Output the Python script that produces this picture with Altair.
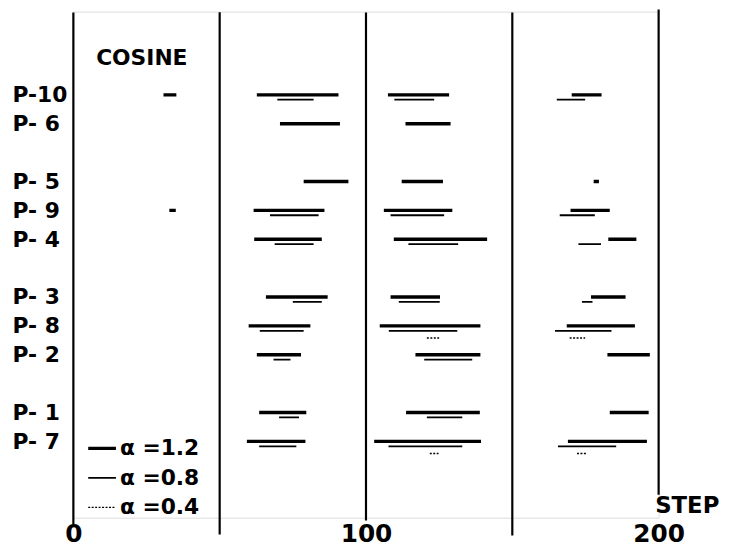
import altair as alt
import pandas as pd

# ---------------- data ----------------
rows = ["P-10", "P- 6", "P- 5", "P- 9", "P- 4", "P- 3", "P- 8", "P- 2", "P- 1", "P- 7"]
row_slots = [0, 1, 3, 4, 5, 7, 8, 9, 11, 12]

series_names = ["α =1.2", "α =0.8", "α =0.4"]

# alpha = 1.2 segments (start, end in STEP units)
a12_row = ["P-10", "P-10", "P-10", "P-10",
           "P- 6", "P- 6",
           "P- 5", "P- 5", "P- 5",
           "P- 9", "P- 9", "P- 9", "P- 9",
           "P- 4", "P- 4", "P- 4",
           "P- 3", "P- 3", "P- 3",
           "P- 8", "P- 8", "P- 8",
           "P- 2", "P- 2", "P- 2",
           "P- 1", "P- 1", "P- 1",
           "P- 7", "P- 7", "P- 7"]
a12_start = [30.8, 62.7, 107.5, 170.3,
             70.6, 113.5,
             78.7, 112.2, 177.8,
             32.8, 61.6, 106.1, 169.9,
             61.8, 109.5, 182.8,
             65.8, 108.4, 176.9,
             59.9, 104.7, 168.6,
             62.7, 116.9, 182.5,
             63.5, 113.7, 183.3,
             59.3, 102.8, 169.0]
a12_end = [35.2, 90.6, 128.4, 180.5,
           91.1, 128.9,
           94.0, 126.3, 179.6,
           35.0, 85.8, 129.5, 183.3,
           84.9, 141.4, 192.4,
           86.9, 125.3, 188.7,
           81.0, 139.1, 191.9,
           77.8, 139.1, 197.0,
           79.6, 138.9, 196.6,
           79.3, 139.3, 196.0]

# alpha = 0.8 segments
a08_row = ["P-10", "P-10", "P-10",
           "P- 9", "P- 9", "P- 9",
           "P- 4", "P- 4", "P- 4",
           "P- 3", "P- 3", "P- 3",
           "P- 8", "P- 8", "P- 8",
           "P- 2", "P- 2",
           "P- 1", "P- 1",
           "P- 7", "P- 7", "P- 7"]
a08_start = [69.7, 109.7, 165.2,
             67.2, 108.4, 166.2,
             68.8, 114.5, 172.6,
             75.0, 111.2, 173.8,
             63.7, 107.8, 164.6,
             68.4, 119.9,
             70.3, 120.8,
             63.5, 107.7, 165.6]
a08_end = [82.1, 123.3, 174.9,
           83.8, 126.7, 178.2,
           82.1, 131.5, 180.3,
           84.9, 125.2, 177.4,
           78.7, 131.2, 183.9,
           74.2, 136.3,
           77.1, 132.9,
           76.2, 132.9, 185.5]

# alpha = 0.4 segments
a04_row = ["P- 8", "P- 8", "P- 7", "P- 7"]
a04_start = [120.8, 169.6, 121.8, 172.1]
a04_end = [125.0, 174.9, 124.8, 175.5]

# vertical reference lines
grid_x = [0, 50, 100, 150, 200]
grid_top = [-2.85, -2.86, -2.85, -2.85, -2.95]
grid_bottom = [14.88, 15.22, 14.74, 15.26, 13.85]

x_tick_values = [0, 100, 200]

# ---------------- styles ----------------
series_offset = {"α =1.2": 0.0, "α =0.8": 0.17, "α =0.4": 0.42}
FONT = "DejaVu Sans"

# ---------------- tables ----------------
slot_of = dict(zip(rows, row_slots))
recs = []
for name, rr, ss, ee in [(series_names[0], a12_row, a12_start, a12_end),
                         (series_names[1], a08_row, a08_start, a08_end),
                         (series_names[2], a04_row, a04_start, a04_end)]:
    for r, s, e in zip(rr, ss, ee):
        recs.append({"row": r, "series": name, "start": s, "end": e,
                     "ypos": slot_of[r] + series_offset[name]})
seg_df = pd.DataFrame(recs)
grid_df = pd.DataFrame({"x": grid_x, "top": grid_top, "bottom": grid_bottom})

label_arr = [""] * (max(row_slots) + 1)
for r, s in zip(rows, row_slots):
    label_arr[s] = r
label_expr = "[" + ",".join("'" + t + "'" for t in label_arr) + "][datum.value]"

xscale = alt.Scale(domain=[0, 200], nice=False, zero=False)
yscale = alt.Scale(domain=[-2.88, 14.64], nice=False, zero=False, reverse=True)

xaxis = alt.Axis(values=x_tick_values, domain=False, ticks=False, grid=False, tickSize=0,
                 labelFont=FONT, labelFontSize=25, labelFontWeight="bold", labelColor="black",
                 labelPadding=4, labelFlush=False, labelOverlap=False,
                 title="STEP", titleFont=FONT, titleFontSize=23, titleFontWeight="bold",
                 titleColor="black", titleX=587, titleY=-12, titleAlign="left",
                 titleBaseline="middle", titleAnchor="start")
yaxis = alt.Axis(values=row_slots, labelExpr=label_expr, domain=False, ticks=False, grid=False,
                 tickSize=0, labelFont=FONT, labelFontSize=22, labelFontWeight="bold",
                 labelColor="black", labelAlign="left", labelBaseline="middle",
                 labelPadding=62, labelOverlap=False, labelBound=False, title=None)

leg = alt.Legend(title=None, orient="none", legendX=13, legendY=425, symbolType="stroke",
                 symbolSize=784, symbolStrokeColor="black", labelFont=FONT, labelFontSize=22,
                 labelFontWeight="bold", labelColor="black", labelOffset=2, rowPadding=3.8,
                 padding=0)

grid = alt.Chart(grid_df).mark_rule(color="black", strokeWidth=2.2).encode(
    x=alt.X("x:Q", scale=xscale, axis=xaxis),
    y=alt.Y("top:Q", scale=yscale, axis=yaxis),
    y2="bottom:Q",
)

segs = alt.Chart(seg_df).mark_rule(color="black", strokeCap="butt").encode(
    x=alt.X("start:Q", scale=xscale, axis=xaxis),
    x2="end:Q",
    y=alt.Y("ypos:Q", scale=yscale, axis=yaxis),
    strokeWidth=alt.StrokeWidth("series:O",
                                scale=alt.Scale(type="ordinal", domain=series_names, range=[3.4, 1.8, 1.4]),
                                legend=leg),
    strokeDash=alt.StrokeDash("series:O",
                              scale=alt.Scale(type="ordinal", domain=series_names,
                                              range=[[1, 0], [1, 0], [2, 1.5]]),
                              legend=leg),
)

chart = alt.layer(grid, segs).properties(
    width=591, height=511,
    autosize=alt.AutoSizeParams(type="none"),
    padding={"left": 66, "top": 1, "right": 64, "bottom": 33},
    title=alt.TitleParams("COSINE", anchor="start", orient="top", frame="group", dx=23, dy=72,
                          offset=0, baseline="middle", font=FONT, fontSize=22,
                          fontWeight="bold", color="black"),
).configure_view(stroke=None).configure(background="white")

chart.save("out.html", embed_options={"renderer": "svg", "actions": False})
